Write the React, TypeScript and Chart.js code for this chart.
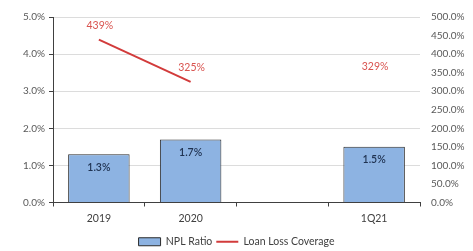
import React, { useEffect, useRef } from "react";
import { Chart, registerables } from "chart.js";

Chart.register(...registerables);

const categories = ["2019", "2020", "", "1Q21"];
const nplRatio = [1.3, 1.7, null, 1.5];
const loanLossCoverage = [439, 325, null, 329];
const leftTicks = [0, 1, 2, 3, 4, 5];
const rightTicks = [0, 50, 100, 150, 200, 250, 300, 350, 400, 450, 500];

const FONT = "Lato, 'Open Sans', sans-serif";

const labelPlugin = {
  id: "valueLabels",
  afterDatasetsDraw(chart: any) {
    const ctx = chart.ctx;
    ctx.save();
    ctx.textAlign = "center";
    ctx.textBaseline = "middle";
    const barMeta = chart.getDatasetMeta(0);
    barMeta.data.forEach((el: any, i: number) => {
      const v = nplRatio[i];
      if (v == null) return;
      ctx.fillStyle = "#1f3251";
      ctx.font = `600 10.5px ${FONT}`;
      ctx.fillText(v.toFixed(1) + "%", el.x, el.y + 13);
    });
    const lineMeta = chart.getDatasetMeta(1);
    lineMeta.data.forEach((el: any, i: number) => {
      const v = loanLossCoverage[i];
      if (v == null) return;
      ctx.fillStyle = "#d9534f";
      ctx.font = `10.5px ${FONT}`;
      ctx.fillText(v + "%", el.x + 1, el.y - 14);
    });
    ctx.restore();
  },
};

export default function App() {
  const ref = useRef<HTMLCanvasElement>(null);
  useEffect(() => {
    document.body.style.margin = "0";
    const chart = new Chart(ref.current!, {
      type: "bar",
      data: {
        labels: categories,
        datasets: [
          {
            type: "bar",
            label: "NPL Ratio",
            data: nplRatio,
            backgroundColor: "#8db3e2",
            borderColor: "#2b2b2b",
            borderWidth: 1,
            barPercentage: 0.67,
            categoryPercentage: 1,
            yAxisID: "y",
            order: 2,
            pointStyle: "rect",
          } as any,
          {
            type: "line",
            label: "Loan Loss Coverage",
            data: loanLossCoverage,
            borderColor: "#d23b3b",
            backgroundColor: "#d23b3b",
            borderWidth: 2,
            pointRadius: 0,
            spanGaps: false,
            yAxisID: "y1",
            order: 1,
            pointStyle: "line",
          } as any,
        ],
      },
      options: {
        animation: false,
        responsive: false,
        layout: { padding: { top: 16, bottom: -6, left: 0, right: 0 } },
        plugins: {
          tooltip: { enabled: false },
          legend: {
            position: "bottom",
            labels: {
              usePointStyle: true,
              pointStyleWidth: 22,
              boxHeight: 8,
              padding: 4,
              color: "#404040",
              font: { family: FONT, size: 10.5 },
              sort: (a: any, b: any) => a.datasetIndex - b.datasetIndex,
            },
          },
        },
        scales: {
          x: {
            grid: {
              offset: true,
              drawOnChartArea: false,
              tickLength: 4,
              color: "#404040",
            },
            border: { color: "#404040", width: 1 },
            ticks: { color: "#404040", font: { family: FONT, size: 10.5 }, padding: 6 },
            afterFit: (s: any) => {
              s.height = 30;
            },
          },
          y: {
            position: "left",
            min: 0,
            max: 5,
            afterBuildTicks: (s: any) => {
              s.ticks = leftTicks.map((v) => ({ value: v }));
            },
            ticks: {
              color: "#595959",
              font: { family: FONT, size: 10 },
              padding: 4,
              callback: (v: any) => Number(v).toFixed(1) + "%",
            },
            grid: {
              color: (c: any) => (c.tick && c.tick.value === 0 ? "#404040" : "#dcdcdc"),
              tickColor: "#404040",
              tickLength: 4,
            },
            border: { color: "#404040", width: 1 },
            afterFit: (s: any) => {
              s.width = 53;
            },
          },
          y1: {
            position: "right",
            min: 0,
            max: 500,
            afterBuildTicks: (s: any) => {
              s.ticks = rightTicks.map((v) => ({ value: v }));
            },
            ticks: {
              color: "#595959",
              font: { family: FONT, size: 10 },
              padding: 11,
              callback: (v: any) => Number(v).toFixed(1) + "%",
            },
            grid: { drawOnChartArea: false, drawTicks: false },
            border: { display: false },
            afterFit: (s: any) => {
              s.width = 53;
            },
          },
        },
      },
      plugins: [labelPlugin],
    });
    return () => chart.destroy();
  }, []);
  return (
    <div style={{ width: 473, height: 251, background: "#fff" }}>
      <canvas ref={ref} width={473} height={251} />
    </div>
  );
}
